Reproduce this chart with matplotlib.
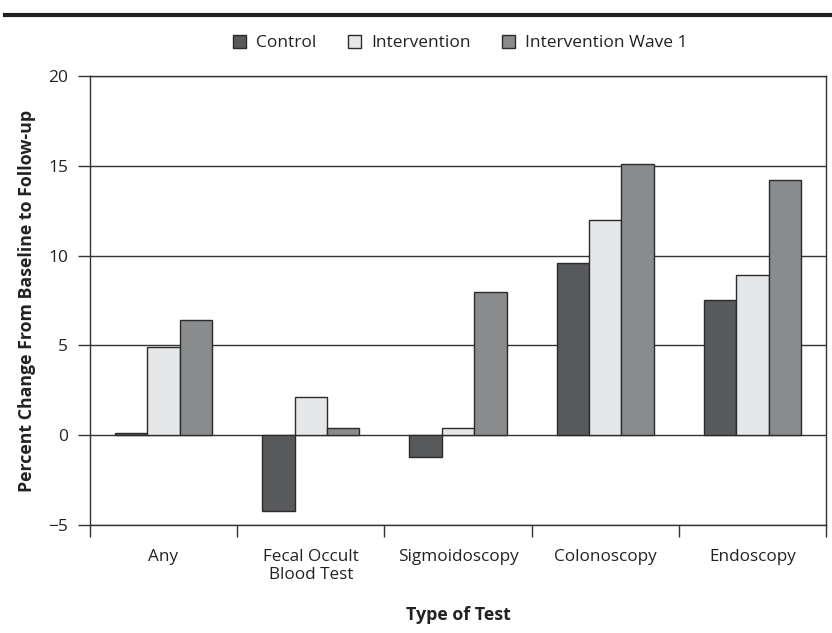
import matplotlib
matplotlib.use('Agg')
import matplotlib.pyplot as plt
import matplotlib.patches as mpatches
from matplotlib.lines import Line2D
import numpy as np

plt.rcParams['font.family'] = ['Open Sans', 'DejaVu Sans']

# ── Data ────────────────────────────────────────────────────
categories   = ['Any', 'Fecal Occult\nBlood Test', 'Sigmoidoscopy', 'Colonoscopy', 'Endoscopy']
control      = [0.1, -4.2, -1.2, 9.6, 7.5]
intervention = [4.9, 2.1, 0.4, 12.0, 8.9]
wave1        = [6.4, 0.4, 8.0, 15.1, 14.2]
series_names = ['Control', 'Intervention', 'Intervention Wave 1']

COLORS = ['#58595b', '#e6e7e8', '#8a8b8d']
EDGE   = '#2b2b2b'
TXT    = '#222222'

fig = plt.figure(figsize=(8.32, 6.33), dpi=100)
ax = fig.add_axes([0.108, 0.1706, 0.885, 0.7094])

x = np.arange(len(categories))
w = 0.22
for i, (vals, col, name) in enumerate(zip([control, intervention, wave1], COLORS, series_names)):
    ax.bar(x + (i - 1) * w, vals, width=w, color=col, edgecolor=EDGE,
           linewidth=1.0, label=name, zorder=3)

ax.set_ylim(-5, 20)
ax.set_xlim(-0.5, len(categories) - 0.5)
ax.set_yticks([-5, 0, 5, 10, 15, 20])
ax.set_yticklabels(['\u22125', '0', '5', '10', '15', '20'])
ax.yaxis.grid(True, color='#333333', linewidth=1.0, zorder=0)
ax.set_axisbelow(True)

# category labels at centers, separator ticks at boundaries
ax.set_xticks(x)
ax.set_xticklabels(categories, fontsize=12.3, color=TXT, linespacing=1.1)
ax.set_xticks(np.arange(-0.5, len(categories)), minor=True)
ax.tick_params(axis='x', which='major', length=0, pad=17.5)
ax.tick_params(axis='x', which='minor', length=8.6, width=1.0, direction='out', color='#333333')
ax.tick_params(axis='y', length=8.6, width=1.0, direction='out', color='#333333',
               labelsize=12.5, labelcolor=TXT, pad=7)

for s in ['left', 'right', 'bottom', 'top']:
    ax.spines[s].set_color('#333333')
    ax.spines[s].set_linewidth(1.0)

ax.set_ylabel('Percent Change From Baseline to Follow-up', fontsize=12.8,
              fontweight='bold', color=TXT, labelpad=9)
ax.set_xlabel('Type of Test', fontsize=12.8, fontweight='bold', color=TXT, labelpad=17)

handles = [mpatches.Patch(facecolor=c, edgecolor=EDGE, linewidth=1.0, label=n)
           for c, n in zip(COLORS, series_names)]
fig.legend(handles=handles, loc='center', bbox_to_anchor=(0.553, 0.932), ncol=3,
           frameon=False, fontsize=12.5, handlelength=0.75, handleheight=0.75,
           columnspacing=1.8, handletextpad=0.6, labelcolor=TXT)

# thick rule at the top of the figure
fig.add_artist(Line2D([0.006, 1.0], [0.976, 0.976], color='#231f20', linewidth=3.0,
                      transform=fig.transFigure))

fig.savefig('out.png', dpi=100, facecolor='white')
